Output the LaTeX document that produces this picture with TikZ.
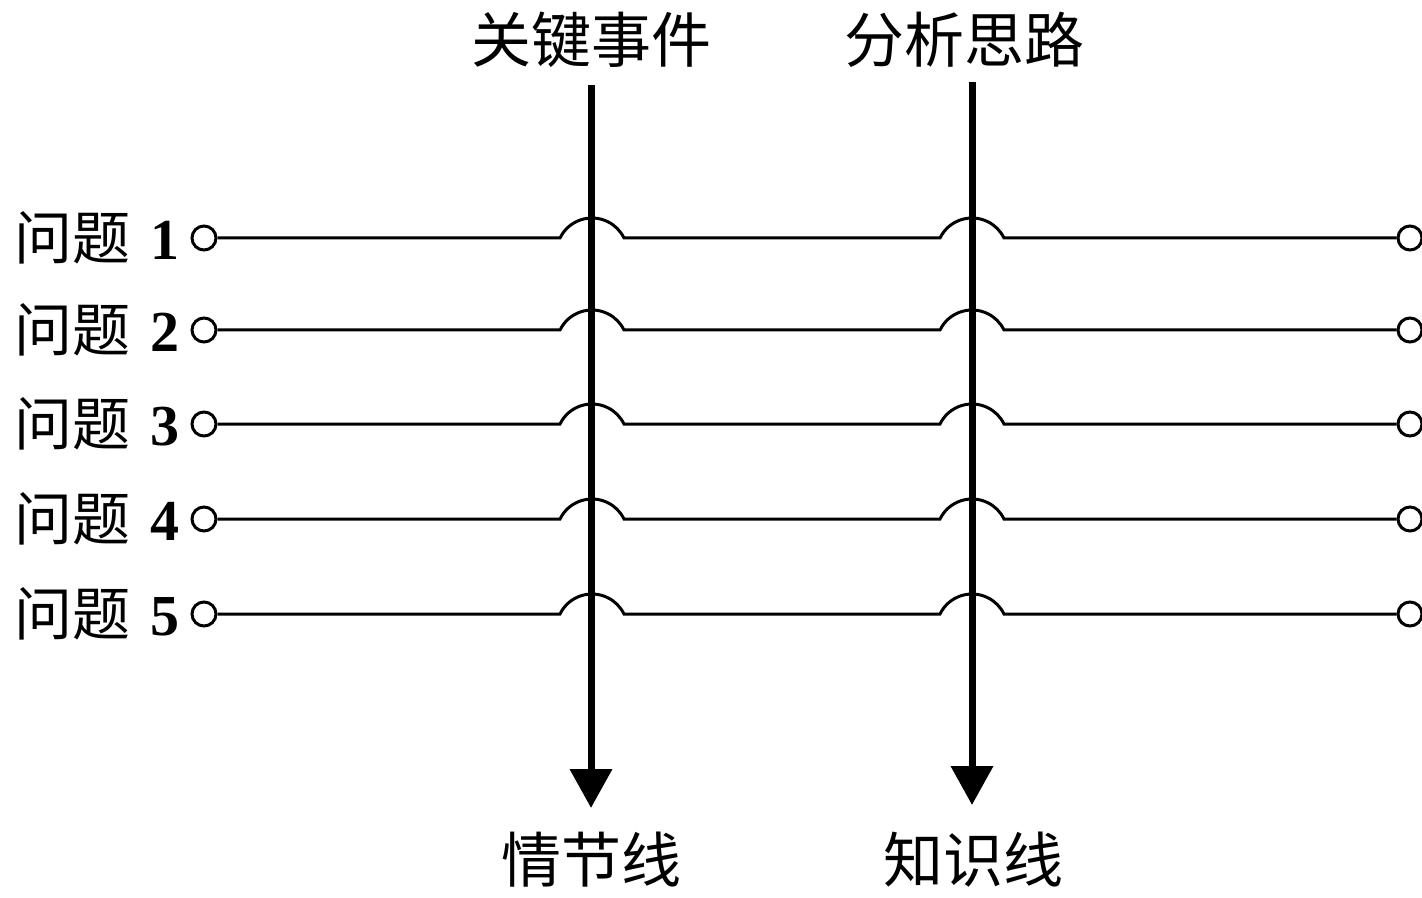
\documentclass[tikz,border=0pt]{standalone}
\usepackage{fontspec}
\setmainfont{Liberation Serif}
\newfontfamily\cjk{Noto Sans CJK SC}
\usetikzlibrary{arrows.meta}

\tikzset{
  port/.style={circle,draw,line width=1.5pt,fill=white,inner sep=0pt,minimum size=12pt},
  wire/.style={line width=1.5pt},
  thread/.style={line width=3.5pt,->},
  head/.style={font=\cjk\fontsize{30pt}{30pt}\selectfont},
  qlabel/.style={anchor=east,inner sep=0pt,font=\fontsize{29pt}{29pt}\selectfont}
}

\begin{document}
\begin{tikzpicture}[x=0.5pt,y=-0.5pt,>={Triangle[width=20.5pt,length=19.5pt]}]
            \useasboundingbox (0,0) rectangle (1422,898);

            % the two threads
            \node[head] (k1) at (591,40) {关键事件};
            \node[head] (k2) at (964,40) {分析思路};
            \node[head] (q1) at (591,860) {情节线};
            \node[head] (q2) at (973,860) {知识线};
            \coordinate (t1) at (591,85);
            \coordinate (b1) at (591,808);
            \coordinate (t2) at (972,82);
            \coordinate (b2) at (972,805);

            % the questions
            \node[qlabel] (p1) at (180,238) {{\cjk 问题}\hspace{0.35em}\textbf{1}};
            \node[qlabel] (p2) at (180,330) {{\cjk 问题}\hspace{0.35em}\textbf{2}};
            \node[qlabel] (p3) at (180,424) {{\cjk 问题}\hspace{0.35em}\textbf{3}};
            \node[qlabel] (p4) at (180,519) {{\cjk 问题}\hspace{0.35em}\textbf{4}};
            \node[qlabel] (p5) at (180,614) {{\cjk 问题}\hspace{0.35em}\textbf{5}};

            % ports at both ends
            \node[port] (l1) at (204,238) {};
            \node[port] (l2) at (204,330) {};
            \node[port] (l3) at (204,424) {};
            \node[port] (l4) at (204,519) {};
            \node[port] (l5) at (204,614) {};
            \node[port] (r1) at (1410,238) {};
            \node[port] (r2) at (1410,330) {};
            \node[port] (r3) at (1410,424) {};
            \node[port] (r4) at (1410,519) {};
            \node[port] (r5) at (1410,614) {};

            % lines with hops over the threads
            \draw[wire] (l1) -- (560,238) arc[start angle=206,end angle=334,radius=35.6] -- (940,238) arc[start angle=206,end angle=334,radius=35.6] -- (r1);
            \draw[wire] (l2) -- (560,330) arc[start angle=206,end angle=334,radius=35.6] -- (940,330) arc[start angle=206,end angle=334,radius=35.6] -- (r2);
            \draw[wire] (l3) -- (560,424) arc[start angle=206,end angle=334,radius=35.6] -- (940,424) arc[start angle=206,end angle=334,radius=35.6] -- (r3);
            \draw[wire] (l4) -- (560,519) arc[start angle=206,end angle=334,radius=35.6] -- (940,519) arc[start angle=206,end angle=334,radius=35.6] -- (r4);
            \draw[wire] (l5) -- (560,614) arc[start angle=206,end angle=334,radius=35.6] -- (940,614) arc[start angle=206,end angle=334,radius=35.6] -- (r5);

            % draw the threads
            \draw[thread] (t1) -- (b1);
            \draw[thread] (t2) -- (b2);
\end{tikzpicture}
\end{document}
